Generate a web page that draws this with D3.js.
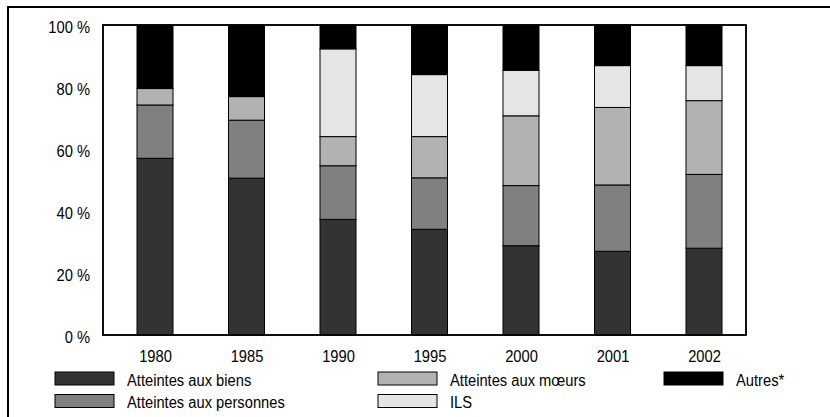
<!DOCTYPE html>
<html><head><meta charset="utf-8">
<script src="https://cdn.jsdelivr.net/npm/d3@7"></script>
<style>
html,body{margin:0;padding:0;background:#fff;}
svg text{font-family:"Liberation Sans",Arial,sans-serif;fill:#000;}
</style></head>
<body>
<svg id="c" width="830" height="417"></svg>
<script>
const years = ["1980","1985","1990","1995","2000","2001","2002"];
const seriesNames = ["Atteintes aux biens","Atteintes aux personnes","Atteintes aux mœurs","ILS","Autres*"];
const biens     = [57.0, 50.6, 37.3, 34.1, 28.8, 27.0, 28.0];
const personnes = [17.2, 18.7, 17.3, 16.6, 19.4, 21.4, 23.8];
const moeurs    = [5.3, 7.6, 9.4, 13.3, 22.5, 25.0, 23.8];
const ils       = [0, 0, 28.3, 20.0, 14.7, 13.5, 11.3];
const autres    = [20.5, 23.1, 7.7, 16.0, 14.6, 13.1, 13.1];
const yTicks = [0, 20, 40, 60, 80, 100];
const colors = ["#333333","#808080","#b2b2b2","#e5e5e5","#000000"];

const seriesVals = [biens, personnes, moeurs, ils, autres];
const table = years.map((y,i)=>{
  const o = {year:y};
  seriesNames.forEach((n,k)=>o[n]=seriesVals[k][i]);
  return o;
});

const FS = 16, SX = 0.92;
const svg = d3.select("#c");
svg.append("rect").attr("x",8).attr("y",7).attr("width",900).attr("height",500)
  .attr("fill","none").attr("stroke","#000").attr("stroke-width",2);

const plot = {l:103, r:746, t:25, b:335};
const x = d3.scalePoint().domain(years).range([155, 704]);
const y = d3.scaleLinear().domain([0,100]).range([plot.b, plot.t]);
const bw = 36;

svg.append("rect").attr("x",plot.l).attr("y",plot.t).attr("width",plot.r-plot.l).attr("height",plot.b-plot.t)
  .attr("fill","#fff").attr("stroke","#000").attr("stroke-width",1.5);

const stack = d3.stack().keys(seriesNames)(table);
svg.append("g").selectAll("g").data(stack).join("g")
  .attr("fill",(d,i)=>colors[i])
  .selectAll("rect").data(d=>d.filter(p=>p[1]-p[0]>0)).join("rect")
  .attr("x",d=>x(d.data.year)-bw/2)
  .attr("width",bw)
  .attr("y",d=>y(d[1]))
  .attr("height",d=>y(d[0])-y(d[1]))
  .attr("stroke","#000").attr("stroke-width",1);

svg.append("rect").attr("x",plot.l).attr("y",plot.t).attr("width",plot.r-plot.l).attr("height",plot.b-plot.t)
  .attr("fill","none").attr("stroke","#000").attr("stroke-width",1.5);

// y axis labels
const yAxis = d3.axisLeft(y).tickValues(yTicks).tickFormat(d=>d+" %").tickSize(0).tickPadding(0);
const ga = svg.append("g").attr("transform",`translate(${plot.l-13},0)`).call(yAxis);
ga.select(".domain").remove();
ga.selectAll("text").attr("font-size",FS).attr("font-family","Liberation Sans, Arial, sans-serif")
  .attr("x",0).attr("dy","0.45em").attr("transform",`scale(${SX},1)`);

// x axis labels
const xAxis = d3.axisBottom(x).tickSize(0).tickPadding(0);
const gx = svg.append("g").attr("transform",`translate(0,${plot.b+27})`).call(xAxis);
gx.select(".domain").remove();
gx.selectAll("text").attr("font-size",FS).attr("font-family","Liberation Sans, Arial, sans-serif")
  .attr("y",0).attr("dy",0).attr("transform",`scale(${SX},1)`);

// legend
const legendPos = [
  {sx:55, tx:127, row:0},
  {sx:55, tx:127, row:1},
  {sx:378, tx:450, row:0},
  {sx:378, tx:450, row:1},
  {sx:664, tx:736, row:0}
];
const lg = svg.append("g");
seriesNames.forEach((n,i)=>{
  const p = legendPos[i];
  const yy = 372 + p.row*22.5;
  lg.append("rect").attr("x",p.sx).attr("y",yy).attr("width",59).attr("height",13)
    .attr("fill",colors[i]).attr("stroke","#000").attr("stroke-width",1);
  lg.append("text").attr("transform",`translate(${p.tx},${yy+13.5}) scale(${SX},1)`)
    .attr("font-size",FS).text(n);
});
</script>
</body></html>
